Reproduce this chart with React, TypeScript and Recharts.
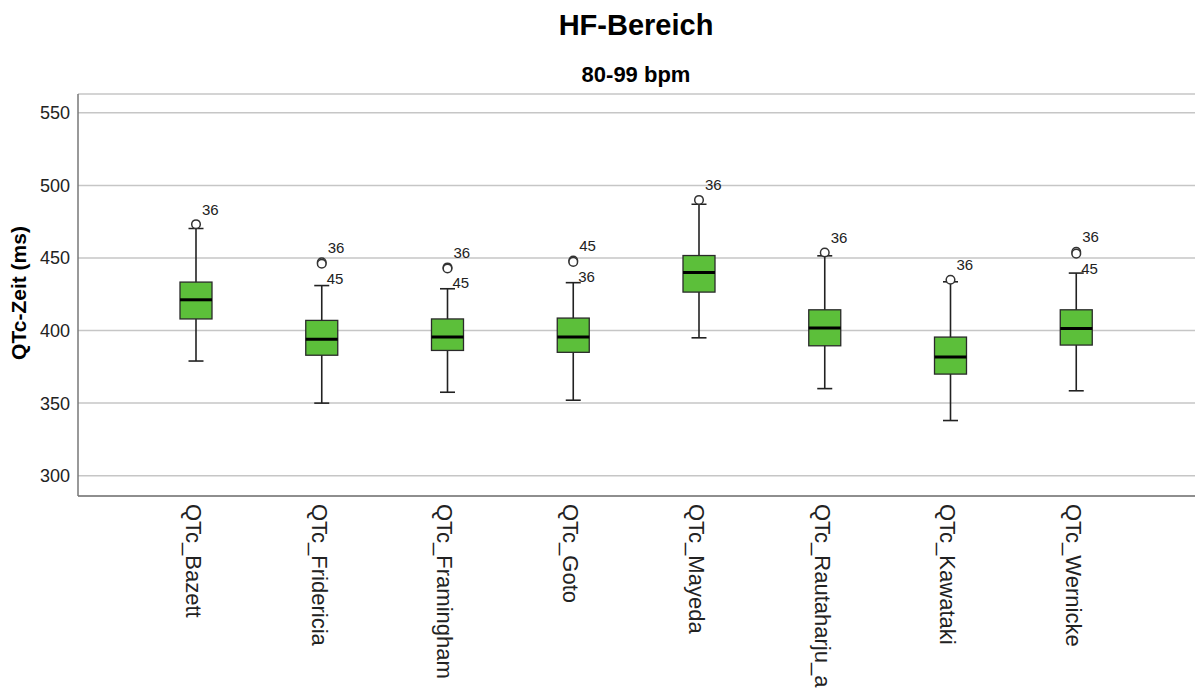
import { ComposedChart, Bar, XAxis, YAxis, CartesianGrid } from "recharts";

const categories = [
  "QTc_Bazett",
  "QTc_Fridericia",
  "QTc_Framingham",
  "QTc_Goto",
  "QTc_Mayeda",
  "QTc_Rautaharju_a",
  "QTc_Kawataki",
  "QTc_Wernicke",
];
const whiskerLow = [379, 350, 357.5, 352, 395, 360, 338, 358.5];
const q1 = [408, 383, 386.3, 385, 426.5, 389.5, 370, 390];
const median = [421.2, 394, 395.5, 395.5, 440, 401.7, 381.7, 401.5];
const q3 = [433.4, 407, 408, 408.6, 451.7, 414.3, 395.5, 414.3];
const whiskerHigh = [470.3, 431, 428.8, 433, 487, 451.5, 433.6, 439.6];
const outlierValues = [[473.3], [447, 446], [443.5, 442.8], [448.3, 447.3], [490], [453.8], [435], [454.2, 453]];
const outlierCases = [["36"], ["36", "45"], ["36", "45"], ["45", "36"], ["36"], ["36"], ["36"], ["36", "45"]];
const yTicks = [300, 350, 400, 450, 500, 550];

const FONT = "'Liberation Sans', Arial, sans-serif";
const GREEN = "#5cbf3a";

const data = categories.map((name, i) => {
  const top = Math.max(whiskerHigh[i], ...outlierValues[i]);
  return {
    name,
    wlo: whiskerLow[i],
    q1: q1[i],
    med: median[i],
    q3: q3[i],
    whi: whiskerHigh[i],
    top,
    outliers: outlierValues[i].map((v, j) => ({ v, id: outlierCases[i][j] })),
    range: [whiskerLow[i], top],
  };
});

// draws the whole box plot inside the range bar (wlo..top)
function BoxShape(props: any) {
  const { x, y, width, height, payload } = props;
  const h = Math.abs(height);
  const y0 = height < 0 ? y + height : y;
  const k = h / (payload.top - payload.wlo);
  const py = (v: number) => y0 + (payload.top - v) * k;
  const cx = x + width / 2;
  const capW = 15;
  const sorted = [...payload.outliers].sort((a: any, b: any) => b.v - a.v);
  return (
    <g>
      <line x1={cx} x2={cx} y1={py(payload.whi)} y2={py(payload.wlo)} stroke="#222" strokeWidth={1.6} />
      <line x1={cx - capW / 2} x2={cx + capW / 2} y1={py(payload.whi)} y2={py(payload.whi)} stroke="#222" strokeWidth={1.6} />
      <line x1={cx - capW / 2} x2={cx + capW / 2} y1={py(payload.wlo)} y2={py(payload.wlo)} stroke="#222" strokeWidth={1.6} />
      <rect
        x={x}
        y={py(payload.q3)}
        width={width}
        height={py(payload.q1) - py(payload.q3)}
        fill={GREEN}
        stroke="#2a2a2a"
        strokeWidth={1.3}
      />
      <line x1={x} x2={x + width} y1={py(payload.med)} y2={py(payload.med)} stroke="#000" strokeWidth={3} />
      {sorted.map((o: any, j: number) => (
        <g key={j}>
          <circle cx={cx} cy={py(o.v)} r={4.3} fill="#fff" stroke="#333" strokeWidth={1.5} />
          <text
            x={cx + (j === 0 ? 6 : 5)}
            y={py(o.v) + (j === 0 ? -9.5 : 20)}
            fontSize={15}
            fill="#222"
            fontFamily={FONT}
          >
            {o.id}
          </text>
        </g>
      ))}
    </g>
  );
}

function CategoryTick(props: any) {
  const { x, payload } = props;
  const bx = x - 10;
  const by = 504;
  return (
    <text x={bx} y={by} transform={`rotate(90, ${bx}, ${by})`} fontSize={22} fill="#222" fontFamily={FONT} textAnchor="start">
      {payload.value}
    </text>
  );
}

export default function App() {
  return (
    <div style={{ position: "absolute", left: 0, top: 0, width: 1195, height: 690, background: "#fff", fontFamily: FONT }}>
      <ComposedChart width={1195} height={690} data={data} margin={{ top: 94, right: 0, bottom: 0, left: 0 }}>
        <CartesianGrid vertical={false} stroke="#c6c6c6" strokeWidth={1.5} />
        <XAxis
          dataKey="name"
          height={194}
          padding={{ left: 55, right: 56 }}
          axisLine={{ stroke: "#777", strokeWidth: 1.5 }}
          tickLine={false}
          tickSize={0}
          tick={<CategoryTick />}
          interval={0}
        />
        <YAxis
          width={78}
          domain={[286, 563]}
          ticks={yTicks}
          type="number"
          allowDataOverflow
          axisLine={{ stroke: "#777", strokeWidth: 1.5 }}
          tickLine={false}
          tickSize={0}
          tickMargin={8}
          tick={{ fontSize: 18, fill: "#222", fontFamily: FONT }}
        />
        <Bar dataKey="range" barSize={32} shape={<BoxShape />} isAnimationActive={false} />
      </ComposedChart>
      <svg width={1195} height={690} style={{ position: "absolute", left: 0, top: 0, pointerEvents: "none" }}>
        <text x={636} y={35} textAnchor="middle" fontSize={29} fontWeight="bold" fill="#000" fontFamily={FONT}>
          HF-Bereich
        </text>
        <text x={636} y={82} textAnchor="middle" fontSize={22} fontWeight="bold" fill="#000" fontFamily={FONT}>
          80-99 bpm
        </text>
        <text x={26} y={293} transform="rotate(-90, 26, 293)" textAnchor="middle" fontSize={21} fontWeight="bold" fill="#000" fontFamily={FONT}>
          QTc-Zeit (ms)
        </text>
      </svg>
    </div>
  );
}
